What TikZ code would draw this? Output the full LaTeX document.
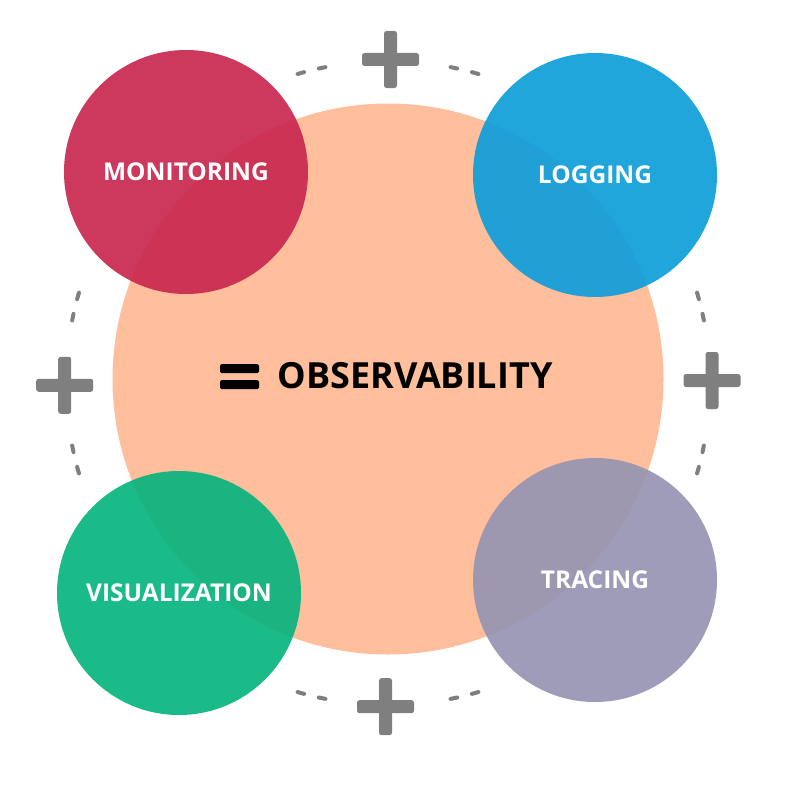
\documentclass[tikz,border=0pt]{standalone}
\usepackage{fontspec}
\setmainfont{Open Sans}
\definecolor{peach}{HTML}{FFBE9C}
\definecolor{monred}{HTML}{C8284F}
\definecolor{logblue}{HTML}{0E9ED9}
\definecolor{visgreen}{HTML}{08B47F}
\definecolor{tracegray}{HTML}{9694B2}
\definecolor{markgray}{HTML}{7F7F7F}
\begin{document}
\begin{tikzpicture}[x=1pt,y=-1pt,
  hub/.style={circle, fill=peach, minimum size=551pt, inner sep=0pt},
  pillar/.style={circle, minimum size=244pt, inner sep=0pt, fill opacity=0.92,
    text opacity=1, text=white, font=\bfseries\fontsize{24.5}{26}\selectfont},
  dashline/.style={draw=markgray, line width=4pt, line cap=round},
  pluspic/.pic={
    \fill[markgray, rounded corners=2.5pt] (-28.5,-6.5) rectangle (28.5,6.5);
    \fill[markgray, rounded corners=2.5pt] (-6.5,-28.5) rectangle (6.5,28.5);
  },
  eqbar/.style={fill=black, rounded corners=1.5pt}
]
\useasboundingbox (0,0) rectangle (800,800);

% dashed ring around the hub, two short dashes on each side of every plus
\coordinate (ring) at (388,383);
\foreach \t in {0,90,180,270}
  \foreach \a/\b in {11.2/12.4, 15.1/16.3, -11.2/-12.4, -15.1/-16.3}
    \draw[dashline] ([shift={(\t+\a:322)}]ring) arc[start angle=\t+\a, end angle=\t+\b, radius=322];

% plus markers on the ring
\pic (plustop) at (390.5,59.5) {pluspic};
\pic (plusleft) at (64.7,385.3) {pluspic};
\pic (plusright) at (712,380.5) {pluspic};
\pic (plusbottom) at (385.5,706.7) {pluspic};

% central hub
\node[hub] (hub) at (388,379) {};
\node[inner sep=0pt, font=\bfseries\fontsize{36}{37}\selectfont] (obs) at (415,376) {OBSERVABILITY};
\fill[eqbar] (220,364) rectangle (259,373);
\fill[eqbar] (220,380) rectangle (259,389);

% the four pillars
\node[pillar, fill=monred] (mon) at (186,172) {MONITORING};
\node[pillar, fill=logblue] (log) at (595,175) {LOGGING};
\node[pillar, fill=visgreen] (vis) at (179,593) {VISUALIZATION};
\node[pillar, fill=tracegray] (trace) at (595,580) {TRACING};
\end{tikzpicture}
\end{document}
